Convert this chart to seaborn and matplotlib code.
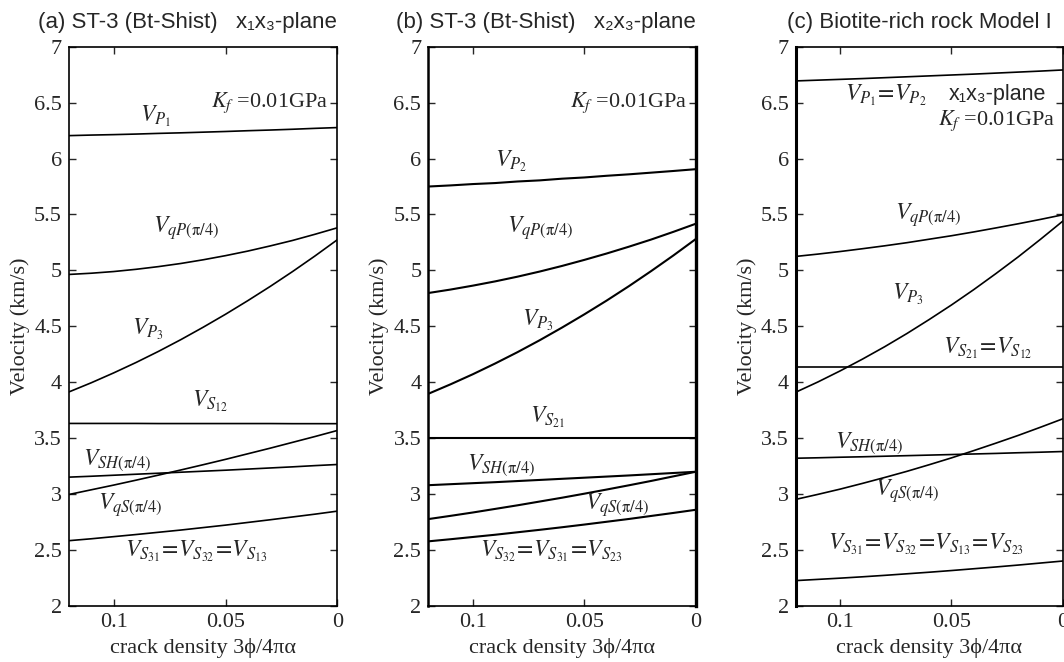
import matplotlib
matplotlib.use("Agg")
import matplotlib.pyplot as plt
import seaborn as sns
import pandas as pd

# ---------------- data ----------------
crack_density = [0.12, 0.11, 0.10, 0.09, 0.08, 0.07, 0.06, 0.05, 0.04, 0.03, 0.02, 0.01, 0.00]

# (a) ST-3 (Bt-Shist) x1x3-plane
VP1_a = [6.205, 6.210, 6.214, 6.219, 6.225, 6.230, 6.236, 6.242, 6.249, 6.255, 6.262, 6.270, 6.277]
VqP_a = [4.964, 4.975, 4.990, 5.010, 5.034, 5.062, 5.095, 5.132, 5.173, 5.219, 5.268, 5.323, 5.381]
VP3_a = [3.914, 3.996, 4.084, 4.177, 4.276, 4.381, 4.492, 4.608, 4.730, 4.857, 4.990, 5.129, 5.274]
VS12_a = [3.632, 3.632, 3.632, 3.632, 3.631, 3.631, 3.631, 3.631, 3.631, 3.631, 3.630, 3.630, 3.630]
VSH_a = [3.152, 3.160, 3.169, 3.178, 3.187, 3.196, 3.205, 3.214, 3.224, 3.234, 3.244, 3.255, 3.265]
VqS_a = [2.997, 3.039, 3.081, 3.125, 3.170, 3.216, 3.263, 3.311, 3.361, 3.411, 3.463, 3.515, 3.569]
VS31_a = [2.584, 2.601, 2.620, 2.639, 2.659, 2.679, 2.701, 2.723, 2.747, 2.771, 2.796, 2.821, 2.848]

# (b) ST-3 (Bt-Shist) x2x3-plane
VP2_b = [5.750, 5.760, 5.772, 5.781, 5.795, 5.805, 5.820, 5.831, 5.846, 5.859, 5.874, 5.889, 5.905]
VqP_b = [4.798, 4.829, 4.864, 4.902, 4.944, 4.990, 5.040, 5.094, 5.151, 5.212, 5.276, 5.345, 5.417]
VP3_b = [3.897, 3.982, 4.072, 4.168, 4.269, 4.376, 4.489, 4.607, 4.730, 4.859, 4.994, 5.134, 5.280]
VS21_b = [3.503, 3.503, 3.503, 3.503, 3.503, 3.503, 3.503, 3.503, 3.503, 3.503, 3.503, 3.503, 3.503]
VSH_b = [3.080, 3.089, 3.098, 3.107, 3.117, 3.127, 3.137, 3.147, 3.157, 3.167, 3.178, 3.189, 3.200]
VqS_b = [2.777, 2.806, 2.836, 2.868, 2.900, 2.934, 2.968, 3.004, 3.041, 3.079, 3.118, 3.159, 3.200]
VS32_b = [2.578, 2.597, 2.617, 2.637, 2.659, 2.681, 2.704, 2.728, 2.753, 2.778, 2.805, 2.832, 2.860]

# (c) Biotite-rich rock Model I
VP12_c = [6.694, 6.701, 6.708, 6.715, 6.723, 6.731, 6.739, 6.747, 6.755, 6.764, 6.773, 6.782, 6.792]
VqP_c = [5.125, 5.146, 5.169, 5.194, 5.220, 5.248, 5.279, 5.310, 5.344, 5.380, 5.417, 5.456, 5.497]
VP3_c = [3.911, 4.003, 4.102, 4.207, 4.318, 4.436, 4.561, 4.691, 4.828, 4.972, 5.121, 5.278, 5.440]
VS21_c = [4.134, 4.134, 4.134, 4.134, 4.134, 4.134, 4.134, 4.134, 4.134, 4.134, 4.134, 4.134, 4.134]
VSH_c = [3.321, 3.325, 3.330, 3.334, 3.339, 3.344, 3.349, 3.354, 3.359, 3.364, 3.370, 3.375, 3.381]
VqS_c = [2.953, 2.998, 3.045, 3.096, 3.149, 3.204, 3.263, 3.324, 3.389, 3.456, 3.525, 3.598, 3.673]
VS31_c = [2.227, 2.238, 2.249, 2.261, 2.274, 2.288, 2.302, 2.317, 2.333, 2.349, 2.366, 2.384, 2.402]

x_ticks = [0.1, 0.05, 0.0]
x_ticklabels = ["0.1", "0.05", "0"]
y_ticks = [2, 2.5, 3, 3.5, 4, 4.5, 5, 5.5, 6, 6.5, 7]
y_ticklabels = ["2", "2.5", "3", "3.5", "4", "4.5", "5", "5.5", "6", "6.5", "7"]

titles = ["(a) ST-3 (Bt-Shist)   x\u2081x\u2083-plane",
          "(b) ST-3 (Bt-Shist)   x\u2082x\u2083-plane",
          "(c) Biotite-rich rock Model I"]

PI4 = r"\mathrm{(\pi/4)}"
labels_a = [r"$V_{P_1}$", r"$V_{qP" + PI4 + "}$", r"$V_{P_3}$", r"$V_{S_{12}}$",
            r"$V_{SH" + PI4 + "}$", r"$V_{qS" + PI4 + "}$",
            r"$V_{S_{31}}\!=\!V_{S_{32}}\!=\!V_{S_{13}}$"]
labels_b = [r"$V_{P_2}$", r"$V_{qP" + PI4 + "}$", r"$V_{P_3}$", r"$V_{S_{21}}$",
            r"$V_{SH" + PI4 + "}$", r"$V_{qS" + PI4 + "}$",
            r"$V_{S_{32}}\!=\!V_{S_{31}}\!=\!V_{S_{23}}$"]
labels_c = [r"$V_{P_1}\!=\!V_{P_2}$", r"$V_{qP" + PI4 + "}$", r"$V_{P_3}$",
            r"$V_{S_{21}}\!=\!V_{S_{12}}$", r"$V_{SH" + PI4 + "}$", r"$V_{qS" + PI4 + "}$",
            r"$V_{S_{31}}\!=\!V_{S_{32}}\!=\!V_{S_{13}}\!=\!V_{S_{23}}$"]

series_a = [VP1_a, VqP_a, VP3_a, VS12_a, VSH_a, VqS_a, VS31_a]
series_b = [VP2_b, VqP_b, VP3_b, VS21_b, VSH_b, VqS_b, VS32_b]
series_c = [VP12_c, VqP_c, VP3_c, VS21_c, VSH_c, VqS_c, VS31_c]

# ---------------- layout (label anchors: left x, baseline y in data units) ----------------
label_pos_a = [(0.0882, 6.33), (0.0824, 5.337), (0.0918, 4.426), (0.0649, 3.786),
               (0.1137, 3.265), (0.1070, 2.863), (0.0949, 2.446)]
label_pos_b = [(0.0901, 5.929), (0.0848, 5.333), (0.0781, 4.51), (0.0744, 3.638),
               (0.1028, 3.22), (0.0497, 2.863), (0.0968, 2.446)]
label_pos_c = [(0.0979, 6.524), (0.0754, 5.453), (0.0769, 4.738), (0.0539, 4.262),
               (0.1024, 3.414), (0.0844, 2.982), (0.1055, 2.506)]

sns.set_style("ticks")
plt.rcParams["font.family"] = ["Liberation Serif", "DejaVu Serif"]
plt.rcParams["mathtext.fontset"] = "stix"

W, H = 1064, 662
fig = plt.figure(figsize=(W / 100, H / 100), dpi=100)

axes_px = [(69, 268.3), (428.3, 267.4), (795.7, 267.0)]
bottom_px, top_px = 606.0, 46.7

panels = [
    (series_a, labels_a, label_pos_a, 1.2),
    (series_b, labels_b, label_pos_b, 1.5),
    (series_c, labels_c, label_pos_c, 1.2),
]
title_x = [38, 396, 787]
spine_w = [(1.2, 1.2), (1.8, 2.4), (2.2, 1.2)]

for i, (series, labels, lpos, lw) in enumerate(panels):
    left, width = axes_px[i]
    ax = fig.add_axes([left / W, (H - bottom_px) / H, width / W, (bottom_px - top_px) / H])
    rows = []
    for k, vals in enumerate(series):
        for xv, yv in zip(crack_density, vals):
            rows.append({"crack": xv, "velocity": yv, "series": k})
    df = pd.DataFrame(rows)
    sns.lineplot(data=df, x="crack", y="velocity", hue="series",
                 palette=["black"] * len(series), legend=False, lw=lw, ax=ax,
                 estimator=None, sort=False)
    ax.set_xlim(0.12, 0.0)
    ax.set_ylim(2, 7)
    ax.set_xticks(x_ticks)
    ax.set_xticklabels(x_ticklabels)
    ax.set_yticks(y_ticks)
    ax.set_yticklabels(y_ticklabels)
    ax.tick_params(direction="in", top=True, right=True, length=5, width=1,
                   labelsize=16, pad=5)
    ax.set_xlabel("crack density 3\u03d5/4\u03c0\u03b1", fontsize=16, labelpad=4)
    ax.set_ylabel("Velocity (km/s)", fontsize=16, labelpad=3)
    for s in ["top", "bottom"]:
        ax.spines[s].set_linewidth(1.2)
        ax.spines[s].set_color("black")
    ax.spines["left"].set_linewidth(spine_w[i][0])
    ax.spines["right"].set_linewidth(spine_w[i][1])
    ax.spines["left"].set_color("black")
    ax.spines["right"].set_color("black")

    for lab, (lx, ly) in zip(labels, lpos):
        ax.text(lx, ly, lab, fontsize=17, ha="left", va="baseline")

    if i == 2:
        ax.text(0.0073, 6.524, "x\u2081x\u2083-plane", fontsize=15.5, ha="right",
                va="baseline", family=["Liberation Sans", "DejaVu Sans"])
        ax.text(0.0036, 6.30, r"$K_f$ =0.01GPa", fontsize=16, ha="right", va="baseline")
    else:
        ax.text(0.004, 6.46, r"$K_f$ =0.01GPa", fontsize=16, ha="right", va="baseline")

    fig.text(title_x[i] / W, 1 - 28 / H, titles[i], fontsize=16, ha="left",
             va="baseline", family=["Liberation Sans", "DejaVu Sans"])

fig.savefig("out.png", dpi=100)
